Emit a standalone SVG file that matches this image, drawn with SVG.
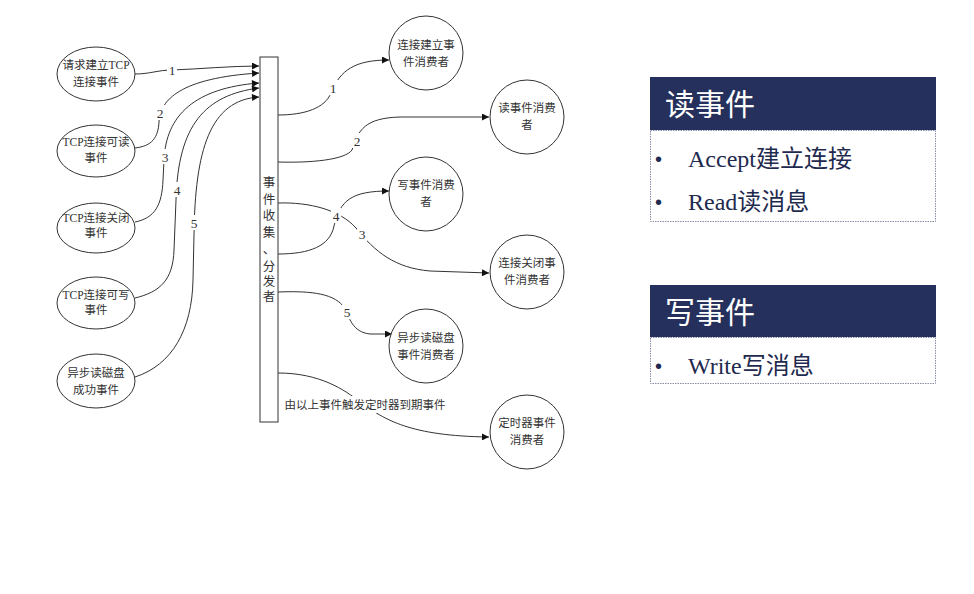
<svg xmlns="http://www.w3.org/2000/svg" width="974" height="594" viewBox="0 0 974 594">
<style>
.shape{fill:#fff;stroke:#333;stroke-width:1}
.t{font-family:"Liberation Serif","Noto Sans CJK SC",serif;font-size:11.5px;fill:#333;text-anchor:middle}
.v{font-family:"Liberation Serif","Noto Sans CJK SC",serif;font-size:12.5px;fill:#333;text-anchor:middle}
.lbl{font-family:"Liberation Serif","Noto Sans CJK SC",serif;font-size:13.5px;fill:#333;text-anchor:middle}
.c{fill:none;stroke:#333;stroke-width:1}
.bg{fill:#fff}
.hdr{fill:#25315c}
.ht{font-family:"Noto Sans CJK SC",sans-serif;font-size:30px;fill:#fff}
.bt{font-family:"Liberation Serif","Noto Sans CJK SC",serif;font-size:24px;fill:#1f2a4f}
.bul{font-family:"Liberation Sans",sans-serif;font-size:20px;fill:#1f2a4f}
.body{fill:#fff;stroke:#8a8fa8;stroke-width:1;stroke-dasharray:1.5,1}
</style>
<defs>
<marker id="ah" viewBox="0 0 10 10" refX="10" refY="5" markerWidth="8" markerHeight="7" markerUnits="userSpaceOnUse" orient="auto">
<path d="M0,0 L10,5 L0,10 z" fill="#111"/>
</marker>
</defs>

<g id="connectors">
<path class="c" marker-end="url(#ah)" d="M135,74 C150,74 158,70 172,70 C200,69 230,66 259,66"/>
<path class="c" marker-end="url(#ah)" d="M135,148 C152,146 158,138 159,122 C160,100 180,78 259,73"/>
<path class="c" marker-end="url(#ah)" d="M135,222 C155,218 162,205 163,180 L164,160 C166,115 195,88 259,83"/>
<path class="c" marker-end="url(#ah)" d="M135,298 C160,292 173,280 174,250 L176,200 C178,125 205,95 259,88"/>
<path class="c" marker-end="url(#ah)" d="M135,377 C172,365 192,330 193,280 L194,235 C195,150 210,100 259,97"/>

<path class="c" marker-end="url(#ah)" d="M278,115 C305,115 325,108 331,93 C340,70 355,60 389,60"/>
<path class="c" marker-end="url(#ah)" d="M278,162 C310,163 345,160 352,150 C358,130 365,118 400,117 L489,117"/>
<path class="c" marker-end="url(#ah)" d="M278,203 C310,202 340,210 356,228 C375,252 395,268 430,271 L489,273"/>
<path class="c" marker-end="url(#ah)" d="M278,254 C310,254 330,246 334,226 C340,200 352,191 389,191"/>
<path class="c" marker-end="url(#ah)" d="M278,292 C305,291 332,292 343,306 C350,318 352,332 370,334 L392,334"/>
<path class="c" marker-end="url(#ah)" d="M278,373 C320,373 345,390 360,402 C385,420 410,436 489,437"/>

<rect class="bg" x="167" y="62" width="10" height="15"/>
<text class="lbl" x="172" y="75">1</text>
<rect class="bg" x="155" y="105" width="10" height="15"/>
<text class="lbl" x="160" y="118">2</text>
<rect class="bg" x="160" y="149" width="10" height="15"/>
<text class="lbl" x="165" y="162">3</text>
<rect class="bg" x="172" y="182" width="10" height="15"/>
<text class="lbl" x="177" y="195">4</text>
<rect class="bg" x="189" y="215" width="10" height="15"/>
<text class="lbl" x="194" y="228">5</text>

<rect class="bg" x="328" y="80" width="10" height="15"/>
<text class="lbl" x="333" y="93">1</text>
<rect class="bg" x="352" y="133" width="10" height="15"/>
<text class="lbl" x="357" y="146">2</text>
<rect class="bg" x="357" y="226" width="10" height="15"/>
<text class="lbl" x="362" y="239">3</text>
<rect class="bg" x="331" y="208" width="10" height="15"/>
<text class="lbl" x="336" y="221">4</text>
<rect class="bg" x="342" y="304" width="10" height="15"/>
<text class="lbl" x="347" y="317">5</text>

<rect class="bg" x="283" y="396" width="166" height="17"/>
<text class="t" x="365" y="409">由以上事件触发定时器到期事件</text>
</g>

<g id="src1"><ellipse class="shape" cx="96" cy="74" rx="39" ry="27"/><text class="t" x="96" y="69">请求建立TCP</text><text class="t" x="96" y="86">连接事件</text></g>
<g id="src2"><ellipse class="shape" cx="96" cy="151" rx="39" ry="26"/><text class="t" x="96" y="146">TCP连接可读</text><text class="t" x="96" y="162">事件</text></g>
<g id="src3"><ellipse class="shape" cx="96" cy="228" rx="39" ry="25"/><text class="t" x="96" y="222">TCP连接关闭</text><text class="t" x="96" y="237">事件</text></g>
<g id="src4"><ellipse class="shape" cx="96" cy="303" rx="39" ry="26"/><text class="t" x="96" y="299">TCP连接可写</text><text class="t" x="96" y="314">事件</text></g>
<g id="src5"><ellipse class="shape" cx="96" cy="381" rx="39" ry="27"/><text class="t" x="96" y="377">异步读磁盘</text><text class="t" x="96" y="394">成功事件</text></g>

<g id="dispatcher">
<rect class="shape" x="260" y="57" width="18" height="365"/>
<text class="v" x="269" y="187">事</text>
<text class="v" x="269" y="204">件</text>
<text class="v" x="269" y="220">收</text>
<text class="v" x="269" y="237">集</text>
<text class="v" x="269" y="254">、</text>
<text class="v" x="269" y="271">分</text>
<text class="v" x="269" y="286">发</text>
<text class="v" x="269" y="301">者</text>
</g>

<g id="c1"><circle class="shape" cx="426" cy="53" r="37"/><text class="t" x="426" y="49">连接建立事</text><text class="t" x="426" y="66">件消费者</text></g>
<g id="c2"><circle class="shape" cx="527" cy="117" r="37"/><text class="t" x="527" y="112">读事件消费</text><text class="t" x="527" y="129">者</text></g>
<g id="c3"><circle class="shape" cx="426" cy="194" r="37"/><text class="t" x="426" y="189">写事件消费</text><text class="t" x="426" y="206">者</text></g>
<g id="c4"><circle class="shape" cx="527" cy="272" r="37"/><text class="t" x="527" y="267">连接关闭事</text><text class="t" x="527" y="284">件消费者</text></g>
<g id="c5"><circle class="shape" cx="426" cy="346" r="37"/><text class="t" x="426" y="342">异步读磁盘</text><text class="t" x="426" y="359">事件消费者</text></g>
<g id="c6"><circle class="shape" cx="527" cy="432" r="37"/><text class="t" x="527" y="427">定时器事件</text><text class="t" x="527" y="444">消费者</text></g>

<g id="panel-read">
<rect class="body" x="650.5" y="130.5" width="285" height="91"/>
<rect class="hdr" x="650" y="77" width="286" height="53"/>
<text class="ht" x="665" y="115">读事件</text>
<text class="bul" x="655" y="166">•</text>
<text class="bt" x="688" y="167">Accept建立连接</text>
<text class="bul" x="655" y="209">•</text>
<text class="bt" x="688" y="210">Read读消息</text>
</g>

<g id="panel-write">
<rect class="body" x="650.5" y="337.5" width="285" height="46"/>
<rect class="hdr" x="650" y="285" width="286" height="52"/>
<text class="ht" x="665" y="323">写事件</text>
<text class="bul" x="655" y="373">•</text>
<text class="bt" x="688" y="374">Write写消息</text>
</g>
</svg>
